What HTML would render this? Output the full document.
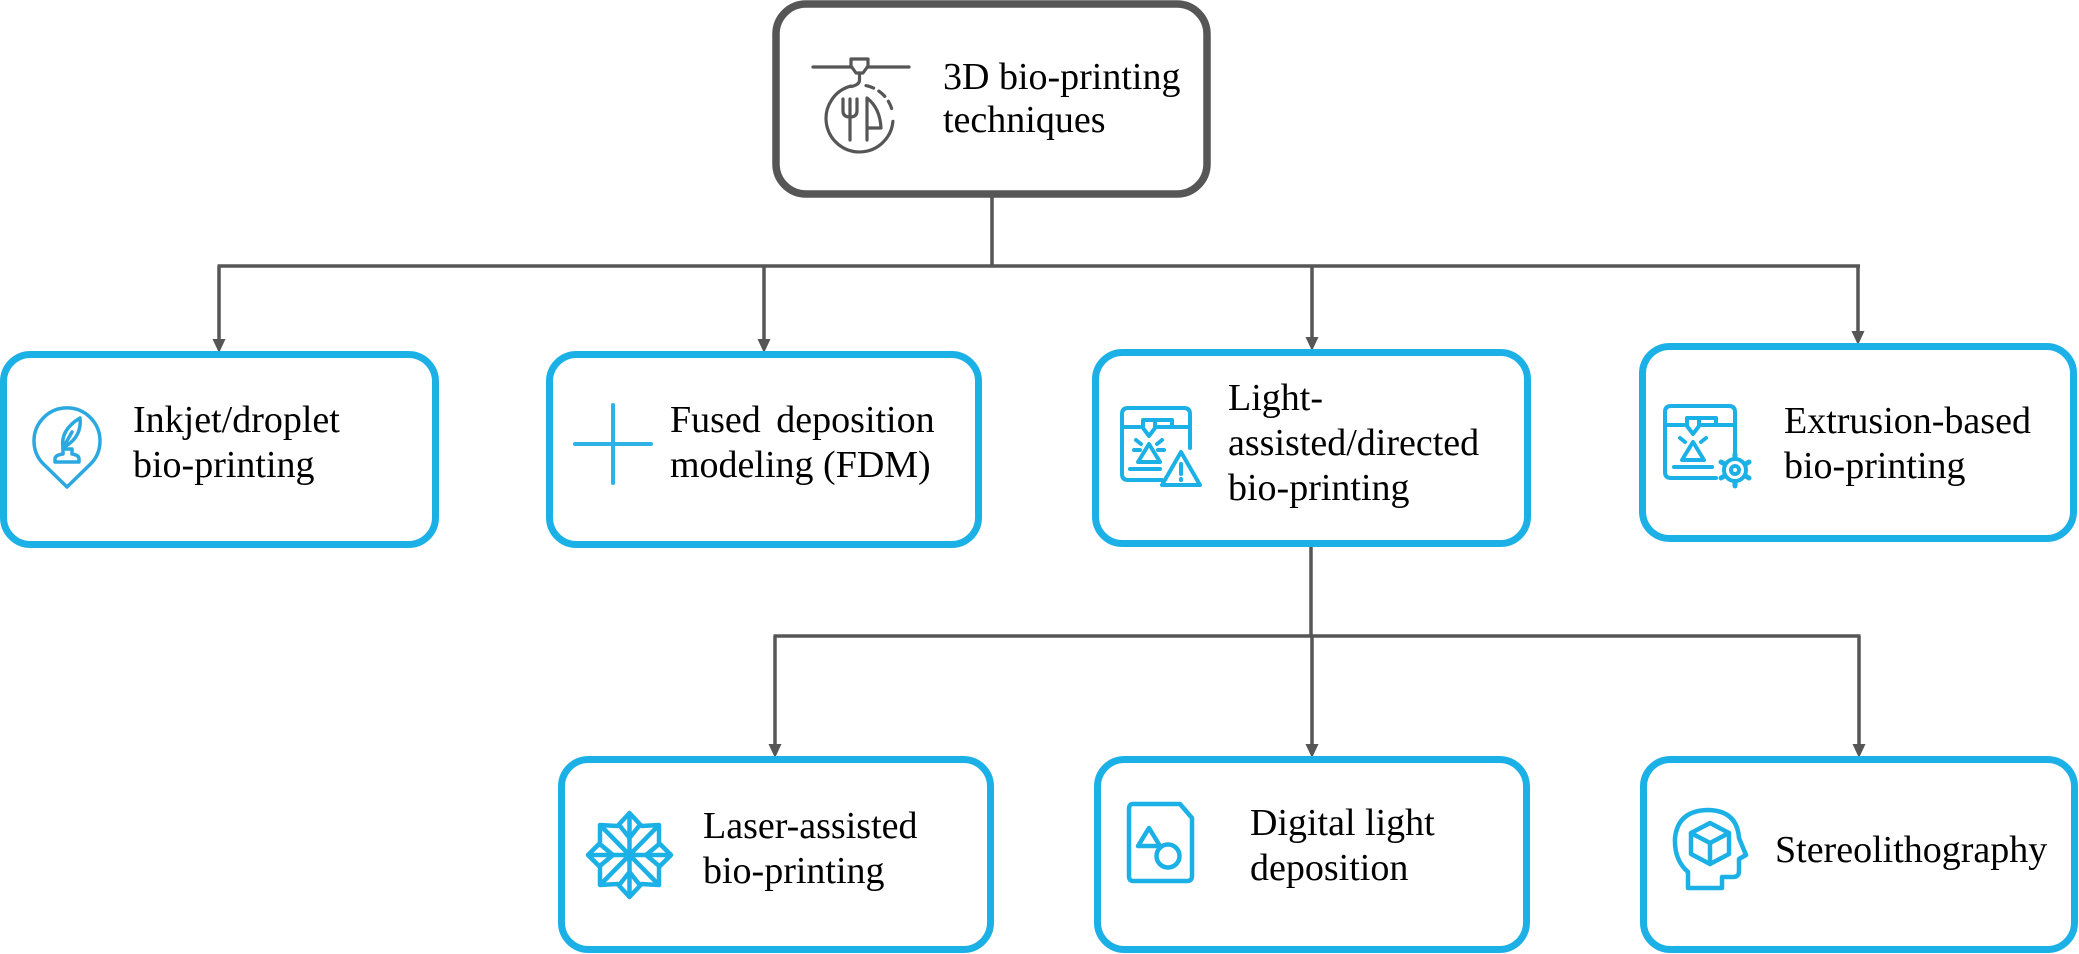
<!DOCTYPE html>
<html>
<head>
<meta charset="utf-8">
<style>
html,body{margin:0;padding:0;background:#fff;}
svg{display:block;}
text{font-family:"Liberation Serif","Times New Roman",serif;font-size:38px;fill:#000;}
</style>
</head>
<body>
<svg width="2079" height="954" viewBox="0 0 2079 954" xmlns="http://www.w3.org/2000/svg">
<rect width="2079" height="954" fill="#fff"/>

<!-- connectors -->
<g stroke="#565656" stroke-width="3.5" fill="none">
  <line x1="992" y1="196" x2="992" y2="266"/>
  <line x1="217.5" y1="266" x2="1860" y2="266"/>
  <line x1="219" y1="266" x2="219" y2="340"/>
  <line x1="764" y1="266" x2="764" y2="340"/>
  <line x1="1312" y1="266" x2="1312" y2="338"/>
  <line x1="1858" y1="266" x2="1858" y2="332"/>
  <line x1="1311" y1="545" x2="1311" y2="636"/>
  <line x1="773.5" y1="636" x2="1860.5" y2="636"/>
  <line x1="775" y1="636" x2="775" y2="745"/>
  <line x1="1312" y1="636" x2="1312" y2="745"/>
  <line x1="1859" y1="636" x2="1859" y2="745"/>
</g>
<g fill="#565656">
  <polygon points="212.5,339 225.5,339 219,353"/>
  <polygon points="757.5,339 770.5,339 764,353"/>
  <polygon points="1305.5,337 1318.5,337 1312,351"/>
  <polygon points="1851.5,331 1864.5,331 1858,345"/>
  <polygon points="768.5,744 781.5,744 775,758"/>
  <polygon points="1305.5,744 1318.5,744 1312,758"/>
  <polygon points="1852.5,744 1865.5,744 1859,758"/>
</g>

<!-- top box -->
<rect x="776" y="4" width="431" height="190" rx="30" ry="30" fill="#fff" stroke="#565656" stroke-width="7.5"/>

<!-- blue boxes -->
<g fill="#fff" stroke="#1cb1e6" stroke-width="7">
  <rect x="3.5" y="354.5" width="432" height="190" rx="27" ry="27"/>
  <rect x="549.5" y="354.5" width="429" height="190" rx="27" ry="27"/>
  <rect x="1095.5" y="352.5" width="432" height="191" rx="27" ry="27"/>
  <rect x="1642.5" y="346.5" width="431" height="192" rx="27" ry="27"/>
  <rect x="561.5" y="759.5" width="429" height="190" rx="27" ry="27"/>
  <rect x="1097.5" y="759.5" width="429" height="190" rx="27" ry="27"/>
  <rect x="1643.5" y="759.5" width="431" height="190" rx="27" ry="27"/>
</g>

<!-- top icon -->
<g stroke="#565656" stroke-width="3.2" fill="none" stroke-linecap="round" stroke-linejoin="round">
  <line x1="813" y1="67" x2="909" y2="67"/>
  <path d="M851,59 H868 V66 L863,73 H856 L851,66 Z" fill="#fff"/>
  <path d="M859.5,73 V80 Q859.5,85 851,86.5"/>
  <path d="M850.8,86.1 A33.5 33.5 0 1 0 892.9,121.4"/>
  <path d="M866,85.6 A33.5 33.5 0 0 1 892.5,112" stroke-dasharray="8 6"/>
  <path d="M843,99 V111 Q843,117 850,117 Q857,117 857,111 V99"/>
  <line x1="850" y1="99" x2="850" y2="140"/>
  <path d="M867,140 V98 Q880,108 881,128 H867"/>
</g>
<text x="943" y="89">3D bio-printing</text>
<text x="943" y="132">techniques</text>

<!-- B1 icon: pin with quill -->
<g stroke="#2aa8df" stroke-width="3.5" fill="none" stroke-linejoin="round" stroke-linecap="round">
  <path d="M67,487 L43.7,464.3 A33 33 0 1 1 90.3,464.3 Z"/>
  <path d="M63,448 Q60,430 80,418 Q82,436 66,446"/>
  <line x1="63" y1="448" x2="72" y2="432"/>
  <path d="M55,462 H79 V459 Q79,455 72,454 V449 H63 V454 Q55,455 55,459 Z"/>
</g>
<text x="133" y="432">Inkjet/droplet</text>
<text x="133" y="477">bio-printing</text>

<!-- B2 icon: plus -->
<g stroke="#2fb3e6" stroke-width="4" stroke-linecap="round">
  <line x1="575" y1="444" x2="651" y2="444"/>
  <line x1="613" y1="405" x2="613" y2="483"/>
</g>
<text x="670" y="432" word-spacing="6">Fused deposition</text>
<text x="670" y="477">modeling (FDM)</text>

<!-- B3 icon: printer frame + warning -->
<g stroke="#1cb1e6" stroke-width="4" fill="none" stroke-linejoin="round" stroke-linecap="round">
  <path d="M1162,480 H1128 Q1122,480 1122,474 V414 Q1122,408 1128,408 H1184 Q1190,408 1190,414 V448"/>
  <line x1="1122" y1="427" x2="1140" y2="427"/>
  <line x1="1158" y1="427" x2="1190" y2="427"/>
  <path d="M1150,420 H1172 V427"/>
  <path d="M1143,420 H1155 V428 L1149,436 L1143,428 Z"/>
  <line x1="1136" y1="440" x2="1141" y2="444"/>
  <line x1="1162" y1="440" x2="1157" y2="444"/>
  <line x1="1134" y1="450" x2="1140" y2="450"/>
  <line x1="1158" y1="450" x2="1164" y2="450"/>
  <path d="M1149,444 L1160,462 H1138 Z"/>
  <line x1="1130" y1="469" x2="1160" y2="469"/>
  <path d="M1181,452 L1200,485 H1162 Z"/>
  <line x1="1181" y1="464" x2="1181" y2="474"/>
  <line x1="1181" y1="479" x2="1181" y2="480"/>
</g>
<text x="1228" y="410">Light-</text>
<text x="1228" y="455">assisted/directed</text>
<text x="1228" y="500">bio-printing</text>

<!-- B4 icon: printer frame + gear -->
<g stroke="#1cb1e6" stroke-width="4" fill="none" stroke-linejoin="round" stroke-linecap="round">
  <path d="M1716,478 H1671 Q1665,478 1665,472 V412 Q1665,406 1671,406 H1729 Q1735,406 1735,412 V452"/>
  <line x1="1665" y1="425" x2="1684" y2="425"/>
  <line x1="1702" y1="425" x2="1735" y2="425"/>
  <path d="M1694,418 H1716 V425"/>
  <path d="M1687,418 H1699 V426 L1693,434 L1687,426 Z"/>
  <line x1="1680" y1="438" x2="1685" y2="442"/>
  <line x1="1706" y1="438" x2="1701" y2="442"/>
  <path d="M1693,442 L1704,460 H1682 Z"/>
  <line x1="1674" y1="467" x2="1712" y2="467"/>
  <circle cx="1735" cy="470" r="11"/>
  <circle cx="1735" cy="470" r="4"/>
  <g stroke-width="5">
    <line x1="1735" y1="454" x2="1735" y2="458"/>
    <line x1="1735" y1="482" x2="1735" y2="486"/>
    <line x1="1721" y1="462" x2="1724.5" y2="464"/>
    <line x1="1745.5" y1="476" x2="1749" y2="478"/>
    <line x1="1721" y1="478" x2="1724.5" y2="476"/>
    <line x1="1745.5" y1="464" x2="1749" y2="462"/>
  </g>
</g>
<text x="1784" y="433">Extrusion-based</text>
<text x="1784" y="478">bio-printing</text>

<!-- B5 icon: snowflake star -->
<g stroke="#1cb1e6" stroke-width="4.5" fill="none" stroke-linejoin="round" stroke-linecap="round">
  <polygon points="629.5,813 641.5,826 659,825 659,843 671,855 659,867 659,885 641.5,884 629.5,897 617.5,884 600,885 600,867 588,855 600,843 600,825 617.5,826"/>
  <line x1="629.5" y1="815" x2="629.5" y2="895"/>
  <line x1="590" y1="855" x2="669" y2="855"/>
  <line x1="602" y1="827" x2="657" y2="883"/>
  <line x1="657" y1="827" x2="602" y2="883"/>
  <path d="M620,826 L629.5,838 L639,826"/>
  <path d="M620,884 L629.5,872 L639,884"/>
  <path d="M601,845 L613,855 L601,865"/>
  <path d="M658,845 L646,855 L658,865"/>
  <circle cx="629.5" cy="855" r="4" fill="#1cb1e6"/>
</g>
<text x="703" y="838">Laser-assisted</text>
<text x="703" y="883">bio-printing</text>

<!-- B6 icon: document with shapes -->
<g stroke="#1cb1e6" stroke-width="4.5" fill="none" stroke-linejoin="round" stroke-linecap="round">
  <path d="M1133,804 H1180 L1192,818 V876 Q1192,881 1187,881 H1133 Q1129,881 1129,876 V809 Q1129,804 1133,804 Z"/>
  <path d="M1149,828 L1160,846 H1138 Z"/>
  <circle cx="1168" cy="856" r="11.5"/>
</g>
<text x="1250" y="835">Digital light</text>
<text x="1250" y="880">deposition</text>

<!-- B7 icon: head with cube -->
<g stroke="#1cb1e6" stroke-width="4.5" fill="none" stroke-linejoin="round" stroke-linecap="round">
  <path d="M1688,888 V872 Q1674,860 1675,838 Q1678,810 1709,810 Q1737,811 1739,838 L1746,855 L1739,859 V871 Q1739,877 1733,877 H1722 V888 Z"/>
  <path d="M1710,823 L1729,833 V854 L1710,864 L1691,854 V833 Z"/>
  <path d="M1691,833 L1710,843 L1729,833 M1710,843 V864"/>
</g>
<text x="1775" y="862">Stereolithography</text>

</svg>
</body>
</html>
